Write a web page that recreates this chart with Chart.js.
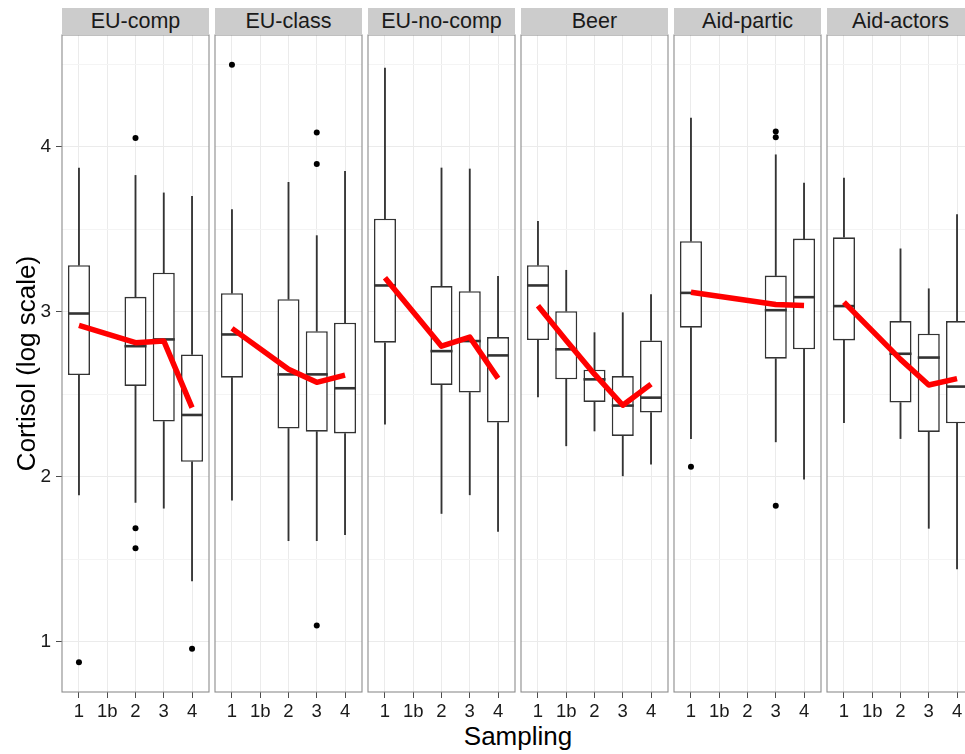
<!DOCTYPE html>
<html>
<head>
<meta charset="utf-8">
<script src="https://cdn.jsdelivr.net/npm/chart.js@4.4.1/dist/chart.umd.min.js"></script>
<style>
html,body{margin:0;padding:0;background:#fff;overflow:hidden;width:965px;height:754px;}
#root{position:relative;width:965px;height:754px;overflow:hidden;font-family:"Liberation Sans",Arial,sans-serif;}
.pc{position:absolute;top:0;}
.pc canvas{display:block;}
.strip{position:absolute;top:8px;height:27px;background:#cccccc;color:#1a1a1a;font-size:21.5px;line-height:27px;text-align:center;white-space:nowrap;overflow:hidden;}
#xtitle{position:absolute;left:368px;width:300px;top:721px;font-size:26px;line-height:30px;text-align:center;color:#000;}
</style>
</head>
<body>
<div id="root"><div id="xtitle">Sampling</div></div>
<script>
// ---------------- data ----------------
const panelNames = ['EU-comp', 'EU-class', 'EU-no-comp', 'Beer', 'Aid-partic', 'Aid-actors'];
const categories = ['1', '1b', '2', '3', '4'];
const yTickValues = [1, 1.5, 2, 2.5, 3, 3.5, 4, 4.5];
const yTitle = 'Cortisol (log scale)';
const xTitle = 'Sampling';

const lowerWhisker = [
  [1.889, null, 1.843, 1.808, 1.367],
  [1.857, null, 1.611, 1.611, 1.647],
  [2.317, null, 1.776, 1.889, 1.667],
  [2.482, 2.186, 2.276, 2.004, 2.075],
  [2.230, null, null, 2.210, 1.984],
  [2.327, null, 2.230, 1.686, 1.440]
];
const lowerHinge = [
  [2.615, null, 2.549, 2.333, 2.089],
  [2.599, null, 2.291, 2.272, 2.261],
  [2.811, null, 2.555, 2.509, 2.327],
  [2.827, 2.589, 2.452, 2.246, 2.388],
  [2.902, null, null, 2.714, 2.771],
  [2.825, null, 2.448, 2.270, 2.323]
];
const medians = [
  [2.988, null, 2.790, 2.831, 2.373],
  [2.861, null, 2.619, 2.619, 2.535],
  [3.158, null, 2.760, 2.821, 2.734],
  [3.158, 2.771, 2.589, 2.430, 2.478],
  [3.113, null, null, 3.008, 3.087],
  [3.033, null, 2.744, 2.721, 2.545]
];
const upperHinge = [
  [3.281, null, 3.089, 3.235, 2.740],
  [3.111, null, 3.075, 2.881, 2.932],
  [3.563, null, 3.154, 3.123, 2.845],
  [3.281, 3.002, 2.647, 2.609, 2.825],
  [3.426, null, null, 3.218, 3.442],
  [3.450, null, 2.942, 2.866, 2.942]
];
const upperWhisker = [
  [3.870, null, 3.825, 3.719, 3.698],
  [3.618, null, 3.783, 3.460, 3.849],
  [4.475, null, 3.870, 3.864, 3.214],
  [3.547, 3.250, 2.872, 2.993, 3.103],
  [4.172, null, null, 3.950, 3.779],
  [3.809, null, 3.380, 3.138, 3.588]
];
const means = [
  [2.916, null, 2.811, 2.822, 2.418],
  [2.898, null, 2.650, 2.571, 2.615],
  [3.204, null, 2.790, 2.845, 2.595],
  [3.035, 2.825, 2.620, 2.432, 2.560],
  [3.117, null, null, 3.043, 3.037],
  [3.057, null, 2.710, 2.555, 2.593]
];
const outliers = [
  [[0.875], [], [4.051, 1.686, 1.565], [], [0.956]],
  [[4.495], [], [], [4.085, 3.894, 1.097], []],
  [[], [], [], [], []],
  [[], [], [], [], []],
  [[2.059], [], [], [4.091, 4.057, 1.823], []],
  [[], [], [], [], []]
];

// ---------------- layout ----------------
const H = 754, PLOT_TOP = 35, PLOT_BOTTOM = 692;
const FIRST_LEFT = 62, PITCH = 153.06, PLOT_W = 147;
const Y_MIN = 0.694, Y_MAX = 4.676;
const FONT = '"Liberation Sans", Arial, sans-serif';
const INK = '#333333';
document.getElementById('xtitle').textContent = xTitle;

const framePlugin = {
  id: 'panelFrame',
  afterDraw(chart) {
    const a = chart.chartArea, c = chart.ctx;
    c.save();
    c.strokeStyle = '#8c8c8c';
    c.lineWidth = 1.1;
    c.strokeRect(a.left, a.top, a.right - a.left, a.bottom - a.top);
    c.restore();
  }
};

function toPoints(arr) {
  const out = [];
  arr.forEach((v, i) => { if (v !== null) out.push({x: i + 1, y: v}); });
  return out;
}
function toRange(lo, hi) {
  const out = [];
  lo.forEach((v, i) => { if (v !== null && hi[i] !== null) out.push({x: i + 1, y: [v, hi[i]]}); });
  return out;
}
const isMajor = (c) => c.tick && Number.isInteger(c.tick.value);

const root = document.getElementById('root');
panelNames.forEach((name, p) => {
  const first = p === 0;
  const L = first ? 62 : 3, R = 3;
  const plotLeft = Math.round(FIRST_LEFT + p * PITCH);
  const W = L + PLOT_W + R;

  const wrap = document.createElement('div');
  wrap.className = 'pc';
  wrap.style.left = (plotLeft - L) + 'px';
  wrap.style.width = W + 'px';
  wrap.style.height = H + 'px';
  const cv = document.createElement('canvas');
  cv.width = W; cv.height = H;
  cv.style.width = W + 'px'; cv.style.height = H + 'px';
  wrap.appendChild(cv);
  root.appendChild(wrap);

  const strip = document.createElement('div');
  strip.className = 'strip';
  strip.style.left = plotLeft + 'px';
  strip.style.width = PLOT_W + 'px';
  strip.textContent = name;
  root.appendChild(strip);

  const outPts = [];
  outliers[p].forEach((vals, i) => vals.forEach(v => outPts.push({x: i + 1, y: v})));

  new Chart(cv, {
    type: 'bar',
    data: {
      datasets: [
        { type: 'bar', data: toRange(lowerWhisker[p], lowerHinge[p]), backgroundColor: INK, borderWidth: 0,
          barThickness: 1.2, grouped: false, order: 6 },
        { type: 'bar', data: toRange(upperHinge[p], upperWhisker[p]), backgroundColor: INK, borderWidth: 0,
          barThickness: 1.2, grouped: false, order: 5 },
        { type: 'bar', data: toRange(lowerHinge[p], upperHinge[p]), backgroundColor: '#ffffff', borderColor: INK,
          borderWidth: 1.6, borderSkipped: false, barPercentage: 0.78, categoryPercentage: 1, grouped: false, order: 4 },
        { type: 'line', data: toPoints(medians[p]), showLine: false, pointStyle: 'line', pointRadius: 11,
          pointBorderWidth: 2.6, pointBorderColor: INK, pointBackgroundColor: INK, order: 3 },
        { type: 'line', data: outPts, showLine: false, pointStyle: 'circle', pointRadius: 3,
          pointBackgroundColor: '#000', pointBorderWidth: 0, order: 2 },
        { type: 'line', data: toPoints(means[p]), borderColor: '#ff0000', borderWidth: 5.5, pointRadius: 0,
          tension: 0, borderCapStyle: 'butt', borderJoinStyle: 'round', fill: false, order: 1 }
      ]
    },
    options: {
      responsive: false,
      devicePixelRatio: 1,
      animation: false,
      events: [],
      layout: { autoPadding: false, padding: { left: 0, right: R, top: PLOT_TOP, bottom: 0 } },
      plugins: { legend: { display: false }, tooltip: { enabled: false }, title: { display: false } },
      scales: {
        x: {
          type: 'linear', min: 0.4, max: 5.6, offset: false,
          afterBuildTicks: s => { s.ticks = categories.map((_, i) => ({value: i + 1})); },
          afterFit: s => { s.height = H - PLOT_BOTTOM; s.paddingLeft = 0; s.paddingRight = 0; },
          border: { display: false },
          grid: { color: '#ebebeb', lineWidth: 1, drawTicks: true, tickLength: 6, tickColor: '#4d4d4d', offset: false },
          ticks: { autoSkip: false, maxRotation: 0, minRotation: 0, padding: 3, color: '#1a1a1a',
                   font: { family: FONT, size: 18.5 },
                   callback: v => categories[v - 1] !== undefined ? categories[v - 1] : '' }
        },
        y: {
          type: 'linear', min: Y_MIN, max: Y_MAX,
          afterBuildTicks: s => { s.ticks = yTickValues.map(v => ({value: v})); },
          afterFit: s => { s.width = L; s.paddingTop = 0; s.paddingBottom = 0; },
          border: { display: false },
          grid: { color: c => isMajor(c) ? '#ebebeb' : '#f4f4f4', lineWidth: 1, drawTicks: first, tickLength: 6,
                  tickColor: c => isMajor(c) ? '#4d4d4d' : 'rgba(0,0,0,0)' },
          ticks: { display: first, padding: 5, color: '#1a1a1a', font: { family: FONT, size: 19 },
                   callback: v => Number.isInteger(v) ? String(v) : '' },
          title: { display: first, text: yTitle, color: '#000', font: { family: FONT, size: 26 },
                   padding: { top: 12, bottom: 0 } }
        }
      }
    },
    plugins: [framePlugin]
  });
});
</script>
</body>
</html>
